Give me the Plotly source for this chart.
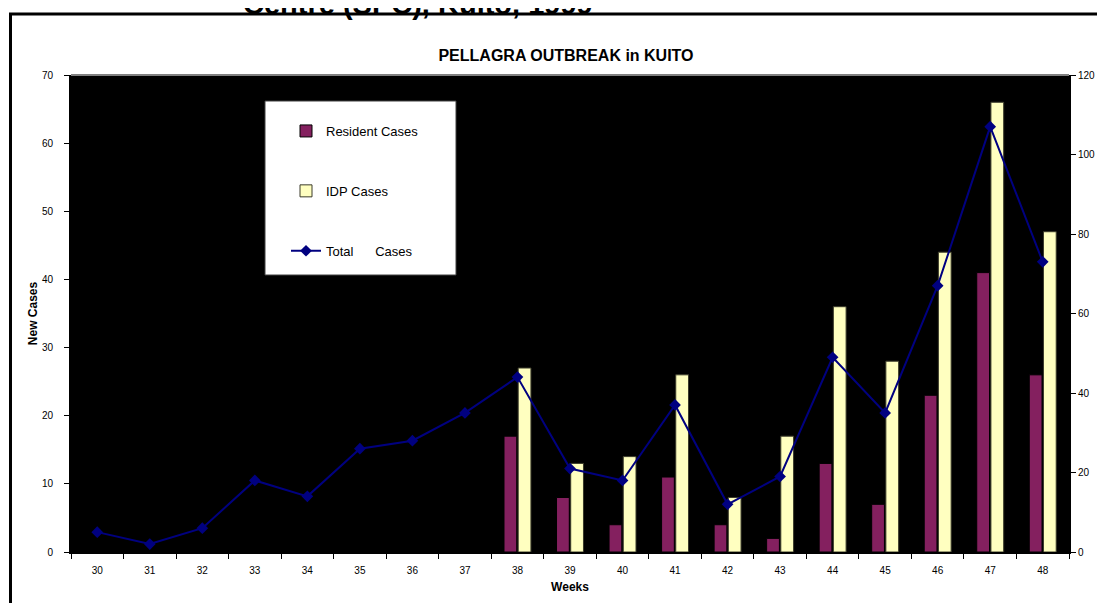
import plotly.graph_objects as go

weeks = [str(w) for w in range(30, 49)]
resident = [None, None, None, None, None, None, None, None, 17, 8, 4, 11, 4, 2, 13, 7, 23, 41, 26]
idp = [None, None, None, None, None, None, None, None, 27, 13, 14, 26, 8, 17, 36, 28, 44, 66, 47]
total = [5, 2, 6, 18, 14, 26, 28, 35, 44, 21, 18, 37, 12, 19, 49, 35, 67, 107, 73]

FONT = "Arial, 'Liberation Sans', sans-serif"

OFF = 8  # browser body margin
W, H = 1105 - OFF, 603 - OFF
# plot area in page pixels
PL, PR, PT, PB = 71, 1069, 75, 552
L, R, T, B = PL - OFF, PR - OFF, PT - OFF, PB - OFF


def px(x):  # page pixel -> paper x
    return (x - PL) / (PR - PL)


def py(y):  # page pixel -> paper y
    return (PB - y) / (PB - PT)


fig = go.Figure()
fig.add_trace(go.Bar(x=weeks, y=resident, name="Resident Cases",
                     marker=dict(color="#84205F", line=dict(color="#000000", width=1)),
                     legendgroup="a"))
fig.add_trace(go.Bar(x=weeks, y=idp, name="IDP Cases",
                     marker=dict(color="#FFFFC0", line=dict(color="#3a3a2a", width=1)),
                     legendgroup="b"))
fig.add_trace(go.Scatter(x=weeks, y=total, name="Total\u00a0\u00a0\u00a0\u00a0\u00a0\u00a0Cases",
                         yaxis="y2", mode="lines+markers",
                         line=dict(color="#000080", width=2),
                         marker=dict(symbol="diamond", size=9, color="#000080"),
                         legendgroup="c"))

fig.update_layout(
    width=W, height=H,
    margin=dict(l=L, r=W - R, t=T, b=H - B, autoexpand=False),
    paper_bgcolor="white", plot_bgcolor="black",
    font=dict(family=FONT, color="black", size=10),
    barmode="group", bargap=0.46, bargroupgap=0.1,
    title=dict(text="<b>PELLAGRA OUTBREAK in KUITO</b>", x=px(566), xref="paper",
               xanchor="center", y=1 - (55 - OFF) / H, yanchor="middle",
               font=dict(size=16, family=FONT, color="black")),
    xaxis=dict(type="category", range=[-0.5, 18.5], tickson="boundaries",
               ticks="outside", ticklen=5, ticklabelstandoff=8,
               tickcolor="black", showline=True, linecolor="black", linewidth=2,
               showgrid=False, zeroline=False, tickfont=dict(size=10),
               title=dict(text="<b>Weeks</b>", font=dict(size=12), standoff=8)),
    yaxis=dict(range=[0, 70], dtick=10, ticks="outside", ticklen=5, tickcolor="black",
               ticklabelstandoff=9,
               showline=True, linecolor="black", linewidth=2, showgrid=False,
               zeroline=False, tickfont=dict(size=10),
               title=dict(text="<b>New Cases</b>", font=dict(size=12), standoff=2)),
    yaxis2=dict(range=[0, 120], dtick=20, overlaying="y", side="right", ticks="outside",
                ticklen=5, tickcolor="black", showline=True, linecolor="black",
                linewidth=2, showgrid=False, zeroline=False, tickfont=dict(size=10)),
    legend=dict(x=px(286), y=py(116), xanchor="left", yanchor="top",
                bgcolor="rgba(0,0,0,0)", borderwidth=0, tracegroupgap=40,
                font=dict(size=13, family=FONT, color="black"),
                traceorder="grouped"),
    showlegend=True,
)

# legend white box
fig.add_shape(type="rect", xref="paper", yref="paper",
              x0=px(265), x1=px(456), y0=py(275), y1=py(101),
              fillcolor="white", line=dict(color="#404040", width=1), layer="above")
# plot top grey border
fig.add_shape(type="line", xref="paper", yref="paper", x0=0, x1=1, y0=1, y1=1,
              line=dict(color="#808080", width=2), layer="above")
# outer frame
fig.add_shape(type="rect", xref="paper", yref="paper",
              x0=px(10.5), x1=px(1130), y0=py(640), y1=py(14),
              line=dict(color="black", width=3), fillcolor="rgba(0,0,0,0)", layer="above")

fig.add_annotation(text="<b>Centre (SPC), Kuito, 1999</b>", xref="paper", yref="paper",
                   x=px(418), y=py(22), xanchor="center", yanchor="bottom",
                   showarrow=False, font=dict(size=29, family=FONT, color="black"))

fig.write_html("out.html")
